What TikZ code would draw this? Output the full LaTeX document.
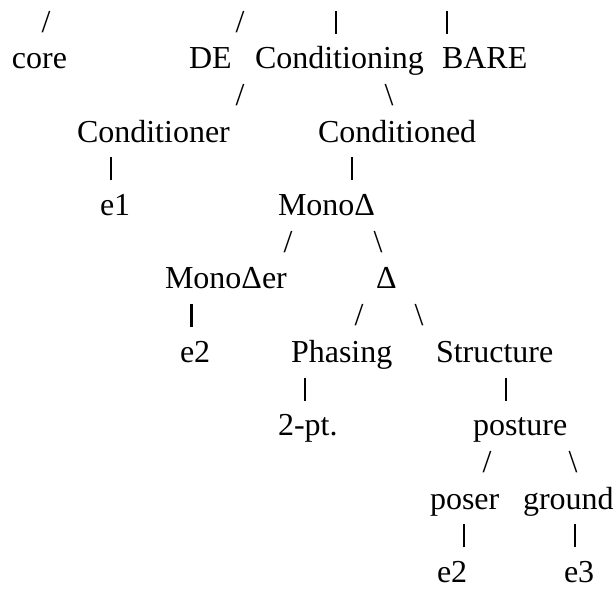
\documentclass[tikz,border=0pt]{standalone}
\usepackage{fontspec}
\setmainfont{Liberation Serif}
\newcommand{\vbarglyph}{\rule[-1.5pt]{2.4pt}{23pt}}
\begin{document}
\begin{tikzpicture}[x=1pt,y=1pt,
  t/.style={inner sep=0pt,outer sep=0pt,font=\fontsize{32}{37}\selectfont,anchor=base west},
  g/.style={inner sep=0pt,outer sep=0pt,font=\fontsize{32}{37}\selectfont,anchor=base}]
\useasboundingbox (0,0) rectangle (613,-590);
% row 1
\node[g] (s1a) at (46,-32) {/};
\node[g] (s1b) at (240,-32) {/};
\node[g] (s1c) at (336,-32) {\vbarglyph};
\node[g] (s1d) at (447,-32) {\vbarglyph};
% row 2
\node[t] (core) at (12,-68.7) {core};
\node[t] (de) at (189,-68.7) {DE};
\node[t] (cond) at (255,-68.7) {Conditioning};
\node[t] (bare) at (442,-68.7) {BARE};
% row 3
\node[g] (s3a) at (240,-105.4) {/};
\node[g] (s3b) at (389,-105.4) {\textbackslash};
% row 4
\node[t] (condr) at (77,-142.1) {Conditioner};
\node[t] (condd) at (318,-142.1) {Conditioned};
% row 5
\node[g] (s5a) at (111,-178.8) {\vbarglyph};
\node[g] (s5b) at (352,-178.8) {\vbarglyph};
% row 6
\node[t] (e1) at (100,-215.5) {e1};
\node[t] (mono) at (278,-215.5) {MonoΔ};
% row 7
\node[g] (s7a) at (288,-252.2) {/};
\node[g] (s7b) at (378,-252.2) {\textbackslash};
% row 8
\node[t] (monoer) at (165,-288.9) {MonoΔer};
\node[t] (delta) at (376,-288.9) {Δ};
% row 9
\node[g] (s9a) at (191.5,-325.6) {\vbarglyph};
\node[g] (s9b) at (359,-325.6) {/};
\node[g] (s9c) at (419,-325.6) {\textbackslash};
% row 10
\node[t] (e2a) at (180,-362.3) {e2};
\node[t] (phasing) at (291,-362.3) {Phasing};
\node[t] (structure) at (436,-362.3) {Structure};
% row 11
\node[g] (s11a) at (305,-399) {\vbarglyph};
\node[g] (s11b) at (506,-399) {\vbarglyph};
% row 12
\node[t] (twopt) at (278,-435.7) {2-pt.};
\node[t] (posture) at (473,-435.7) {posture};
% row 13
\node[g] (s13a) at (487,-472.4) {/};
\node[g] (s13b) at (573,-472.4) {\textbackslash};
% row 14
\node[t] (poser) at (430,-509.1) {poser};
\node[t] (ground) at (523,-509.1) {ground};
% row 15
\node[g] (s15a) at (464,-545.8) {\vbarglyph};
\node[g] (s15b) at (575,-545.8) {\vbarglyph};
% row 16
\node[t] (e2b) at (437,-582.5) {e2};
\node[t] (e3) at (564,-582.5) {e3};
\end{tikzpicture}
\end{document}
